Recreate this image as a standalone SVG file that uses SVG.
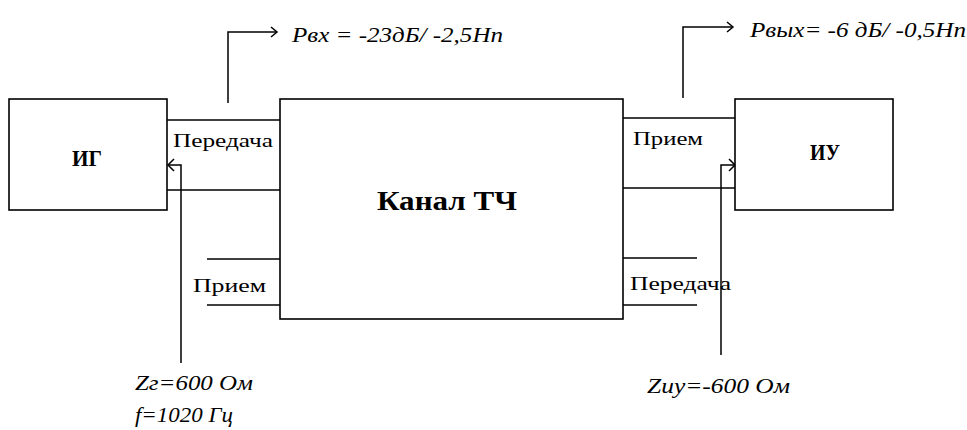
<svg xmlns="http://www.w3.org/2000/svg" width="967" height="430" viewBox="0 0 967 430">
  <style>
    .box { fill: #fff; stroke: #000; stroke-width: 1.6; }
    .ln { fill: none; stroke: #000; stroke-width: 1.5; }
    .lbl { font-family: "Liberation Serif", "DejaVu Serif", serif; font-size: 19px; fill: #000; }
    .ttl { font-family: "Liberation Serif", "DejaVu Serif", serif; font-weight: bold; fill: #000; }
    .val { font-family: "Liberation Serif", "DejaVu Serif", serif; font-style: italic; font-size: 21px; fill: #000; }
  </style>
  <rect width="967" height="430" fill="#fff"/>

  <g id="connectors">
    <!-- left port lines: transmit (top) and receive (bottom) -->
    <line class="ln" x1="167" y1="120" x2="280" y2="120"/>
    <line class="ln" x1="167" y1="190" x2="280" y2="190"/>
    <line class="ln" x1="207" y1="259" x2="280" y2="259"/>
    <line class="ln" x1="207" y1="305" x2="280" y2="305"/>
    <!-- right port lines: receive (top) and transmit (bottom) -->
    <line class="ln" x1="623" y1="118" x2="735" y2="118"/>
    <line class="ln" x1="621" y1="188" x2="735" y2="188"/>
    <line class="ln" x1="623" y1="258" x2="697" y2="258"/>
    <line class="ln" x1="623" y1="305" x2="697" y2="305"/>
    <!-- input level pointer -->
    <path class="ln" d="M228 103 V32 H277"/>
    <path class="ln" d="M271 27 L277 32 L271 37"/>
    <!-- output level pointer -->
    <path class="ln" d="M683 98 V27 H733"/>
    <path class="ln" d="M727 22 L733 27 L727 32"/>
    <!-- generator impedance pointer -->
    <path class="ln" d="M181 363 V165 H168"/>
    <path class="ln" d="M174 159 L168 165 L174 171"/>
    <!-- meter impedance pointer -->
    <path class="ln" d="M721 355 V165 H735"/>
    <path class="ln" d="M729 159 L735 165 L729 171"/>
  </g>

  <g id="node-ig">
    <rect class="box" x="9" y="99" width="158" height="111"/>
    <text class="ttl" x="72" y="166" font-size="24" textLength="30" lengthAdjust="spacingAndGlyphs">ИГ</text>
  </g>

  <g id="node-channel">
    <rect class="box" x="280" y="99" width="343" height="220"/>
    <text class="ttl" x="377" y="210" font-size="28" textLength="140" lengthAdjust="spacingAndGlyphs">Канал ТЧ</text>
  </g>

  <g id="node-iu">
    <rect class="box" x="735" y="99" width="158" height="111"/>
    <text class="ttl" x="810" y="160" font-size="24" textLength="30" lengthAdjust="spacingAndGlyphs">ИУ</text>
  </g>

  <g id="port-labels">
    <text class="lbl" x="173" y="147" textLength="100" lengthAdjust="spacingAndGlyphs">Передача</text>
    <text class="lbl" x="193" y="292" textLength="73" lengthAdjust="spacingAndGlyphs">Прием</text>
    <text class="lbl" x="633" y="145" textLength="70" lengthAdjust="spacingAndGlyphs">Прием</text>
    <text class="lbl" x="630" y="290" textLength="101" lengthAdjust="spacingAndGlyphs">Передача</text>
  </g>

  <g id="values">
    <text class="val" x="292" y="42" textLength="211" lengthAdjust="spacingAndGlyphs">Pвх = -23дБ/ -2,5Нп</text>
    <text class="val" x="750" y="37" textLength="216" lengthAdjust="spacingAndGlyphs">Pвых= -6 дБ/ -0,5Нп</text>
    <text class="val" x="135" y="390" textLength="118" lengthAdjust="spacingAndGlyphs">Zг=600 Ом</text>
    <text class="val" x="135" y="422" textLength="98" lengthAdjust="spacingAndGlyphs">f=1020 Гц</text>
    <text class="val" x="647" y="393" textLength="143" lengthAdjust="spacingAndGlyphs">Zиу=-600 Ом</text>
  </g>
</svg>
